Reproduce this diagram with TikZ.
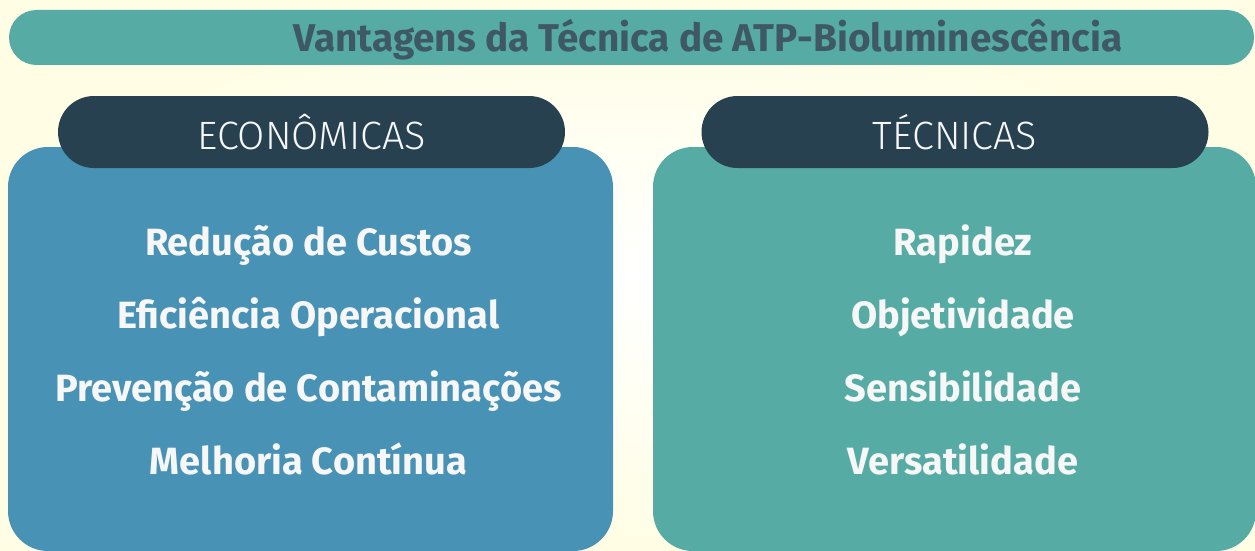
\documentclass[tikz,border=0pt]{standalone}
\usepackage{fontspec}
\newfontfamily\itemfont{Fira Sans Bold}
\newfontfamily\lightfont{Fira Sans Light}
\newfontfamily\titlefont{Fira Sans Bold}
\definecolor{teal1}{HTML}{56ABA5}
\definecolor{titletext}{HTML}{3E5864}
\definecolor{darkpill}{HTML}{274150}
\definecolor{bluebox}{HTML}{4792B5}
\definecolor{cream}{HTML}{FFFEE4}
\definecolor{whitetext}{HTML}{F7F7F7}
\tikzset{
  pill/.style={fill=darkpill, rounded corners=36pt, minimum width=507pt, minimum height=72pt, inner sep=0pt, text=whitetext, font=\lightfont\fontsize{39.5}{42}\selectfont},
  panel/.style={rounded corners=40pt, minimum width=605pt, minimum height=404pt, inner sep=0pt},
  itemtext/.style={anchor=base, text=whitetext, font=\itemfont\fontsize{38}{42}\selectfont, inner sep=0pt},
}
\begin{document}
\begin{tikzpicture}[x=1pt,y=-1pt]
\useasboundingbox (0,0) rectangle (1255,551);
\shade[inner color=white, outer color=cream] (0,0) rectangle (1255,551);
% title bar
\node[fill=teal1, rounded corners=27.5pt, minimum width=1245pt, minimum height=55pt, inner sep=0pt] (bar) at (631.5,37.5) {};
\node[anchor=base, text=titletext, font=\titlefont\fontsize{38.7}{42}\selectfont, inner sep=0pt] (title) at (708,52) {Vantagens da Técnica de ATP-Bioluminescência};
% panels
\node[panel, fill=bluebox] (left) at (310.5,349) {};
\node[panel, fill=teal1, minimum width=603pt] (right) at (954.5,349) {};
% pills
\node[pill] (lp) at (311.5,132) {ECONÔMICAS};
\node[pill] (rp) at (955,132) {TÉCNICAS};
% items left
\node[itemtext] (l1) at (308.5,255) {Redução de Custos};
\node[itemtext] (l2) at (308.5,328) {Eficiência Operacional};
\node[itemtext] (l3) at (308.5,401) {Prevenção de Contaminações};
\node[itemtext] (l4) at (308.5,474) {Melhoria Contínua};
% items right
\node[itemtext] (r1) at (963,255) {Rapidez};
\node[itemtext] (r2) at (963,328) {Objetividade};
\node[itemtext] (r3) at (963,401) {Sensibilidade};
\node[itemtext] (r4) at (963,474) {Versatilidade};
\end{tikzpicture}
\end{document}
